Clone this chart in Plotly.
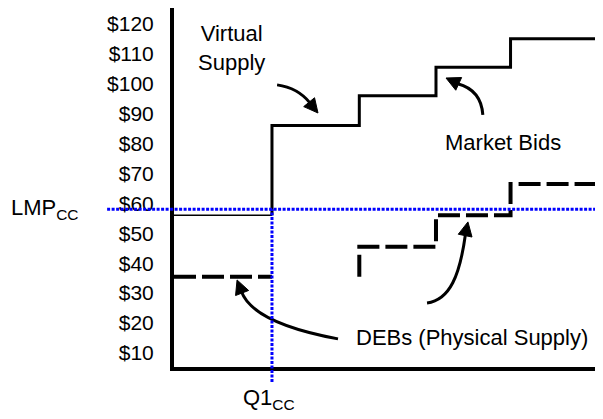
import math
import plotly.graph_objects as go

# ---------------- data ----------------
q1_cc = 23.0
lmp_cc = 58.0

virtual_q = [0, 23.0]
virtual_price = [56.0, 56.0]

bid_q = [23.0, 23.0, 43.5, 61.5, 79.0, 100.0]
bid_price = [56.0, 86.0, 96.0, 105.5, 115.0, 115.0]

deb1_q = [0, 23.0]
deb1_price = [35.5, 35.5]

deb2_q = [43.5, 43.5, 61.5, 79.0, 100.0]
deb2_price = [35.5, 45.5, 56.0, 66.5, 66.5]

tick_vals = [10, 20, 30, 40, 50, 60, 70, 80, 90, 100, 110, 120]
tick_text = ["$10", "$20", "$30", "$40", "$50", "$60", "$70", "$80", "$90", "$100", "$110", "$120"]

X_RANGE = [0, 100]
Y_RANGE = [5.3, 125.3]

FONT = "Liberation Sans, Arial, sans-serif"

# figure geometry (page body has an 8px margin)
W, H = 595, 411
M = dict(l=166, r=3, t=0, b=52)
PW = W - M["l"] - M["r"]
PH = H - M["t"] - M["b"]
sx = PW / (X_RANGE[1] - X_RANGE[0])
sy = PH / (Y_RANGE[1] - Y_RANGE[0])

fig = go.Figure()

fig.add_trace(go.Scatter(x=virtual_q, y=virtual_price, mode="lines",
                         line=dict(color="black", width=1.6), showlegend=False))
fig.add_trace(go.Scatter(x=bid_q, y=bid_price, mode="lines", line_shape="hv",
                         line=dict(color="black", width=3), showlegend=False))
fig.add_trace(go.Scatter(x=deb1_q, y=deb1_price, mode="lines",
                         line=dict(color="black", width=4, dash="22px,6px"), showlegend=False))
fig.add_trace(go.Scatter(x=deb2_q, y=deb2_price, mode="lines", line_shape="hv",
                         line=dict(color="black", width=4, dash="22px,6px"), showlegend=False))

blue = dict(color="#0000FF", width=3, dash="3px,1.5px")
lmp_paper_y = (lmp_cc - Y_RANGE[0]) / (Y_RANGE[1] - Y_RANGE[0])
shapes = []

# curved arrow shafts
curve = dict(color="black", width=3)
paths = [
    "M 24.2,99.6 Q 29.1,98.6 31.9,93.6",
    "M 72.5,89.6 Q 72.1,97.9 66.6,100.0",
    "M 38.5,14.7 C 27.2,17.7 17.8,22.7 15.8,30.6",
    "M 59.4,26.7 C 64.8,27.7 67.1,36.1 68.4,49.5",
]
for p in paths:
    shapes.append(dict(type="path", xref="x", yref="y", path=p, line=curve))

# arrow heads: tip (data) and pointing direction (screen pixels, y down)
heads = [
    (33.8, 90.2, 0.63, 0.77),
    (63.85, 101.9, -0.91, -0.42),
    (14.8, 34.4, -0.36, -0.93),
    (69.0, 53.8, 0.2, -0.98),
]
HL, HW = 14.0, 7.0
for (tx, ty, dx, dy) in heads:
    n = math.hypot(dx, dy)
    dx, dy = dx / n, dy / n
    bx, by = -HL * dx, -HL * dy          # base centre offset in px
    nx, ny = -dy, dx
    pts = [(0, 0), (bx + HW * nx, by + HW * ny), (bx - HW * nx, by - HW * ny)]
    coords = [(tx + px / sx, ty - py / sy) for px, py in pts]
    path = "M {:.3f},{:.3f} L {:.3f},{:.3f} L {:.3f},{:.3f} Z".format(*[c for xy in coords for c in xy])
    shapes.append(dict(type="path", xref="x", yref="y", path=path,
                       fillcolor="black", line=dict(color="black", width=1)))

# LMP and Q1 reference lines
shapes += [
    dict(type="line", xref="paper", yref="y", x0=-0.157, x1=0.995, y0=lmp_cc, y1=lmp_cc, line=blue),
    dict(type="line", xref="x", yref="paper", x0=q1_cc, x1=q1_cc, y0=-0.042, y1=lmp_paper_y, line=blue),
]

txt = dict(family=FONT, size=22, color="black")
annotations = [
    dict(x=13.4, y=112, xref="x", yref="y", text="Virtual<br>Supply", showarrow=False,
         font=txt, xanchor="center", yanchor="middle"),
    dict(x=77.2, y=80.5, xref="x", yref="y", text="Market Bids", showarrow=False,
         font=txt, xanchor="center", yanchor="middle"),
    dict(x=70.0, y=15.3, xref="x", yref="y", text="DEBs (Physical Supply)", showarrow=False,
         font=txt, xanchor="center", yanchor="middle"),
    dict(x=-0.387, y=lmp_cc, xref="paper", yref="y", text="LMP<sub>CC</sub>", showarrow=False,
         font=txt, xanchor="left", yanchor="middle"),
    dict(x=q1_cc, y=-0.09, xref="x", yref="paper", text="Q1<sub>CC</sub>", showarrow=False,
         font=txt, xanchor="center", yanchor="middle", xshift=-3),
]

fig.update_layout(
    width=W, height=H, autosize=False,
    margin=dict(l=M["l"], r=M["r"], t=M["t"], b=M["b"], pad=0),
    plot_bgcolor="white", paper_bgcolor="white",
    shapes=shapes, annotations=annotations,
    font=dict(family=FONT, size=21, color="black"),
)
fig.update_xaxes(range=X_RANGE, showline=True, linewidth=4, linecolor="black",
                 showticklabels=False, ticks="", showgrid=False, zeroline=False)
fig.update_yaxes(range=Y_RANGE, showline=True, linewidth=4, linecolor="black",
                 tickvals=tick_vals, ticktext=tick_text, ticks="",
                 tickfont=dict(family=FONT, size=21, color="black"),
                 ticklabelstandoff=12,
                 showgrid=False, zeroline=False)

fig.write_html("out.html")
